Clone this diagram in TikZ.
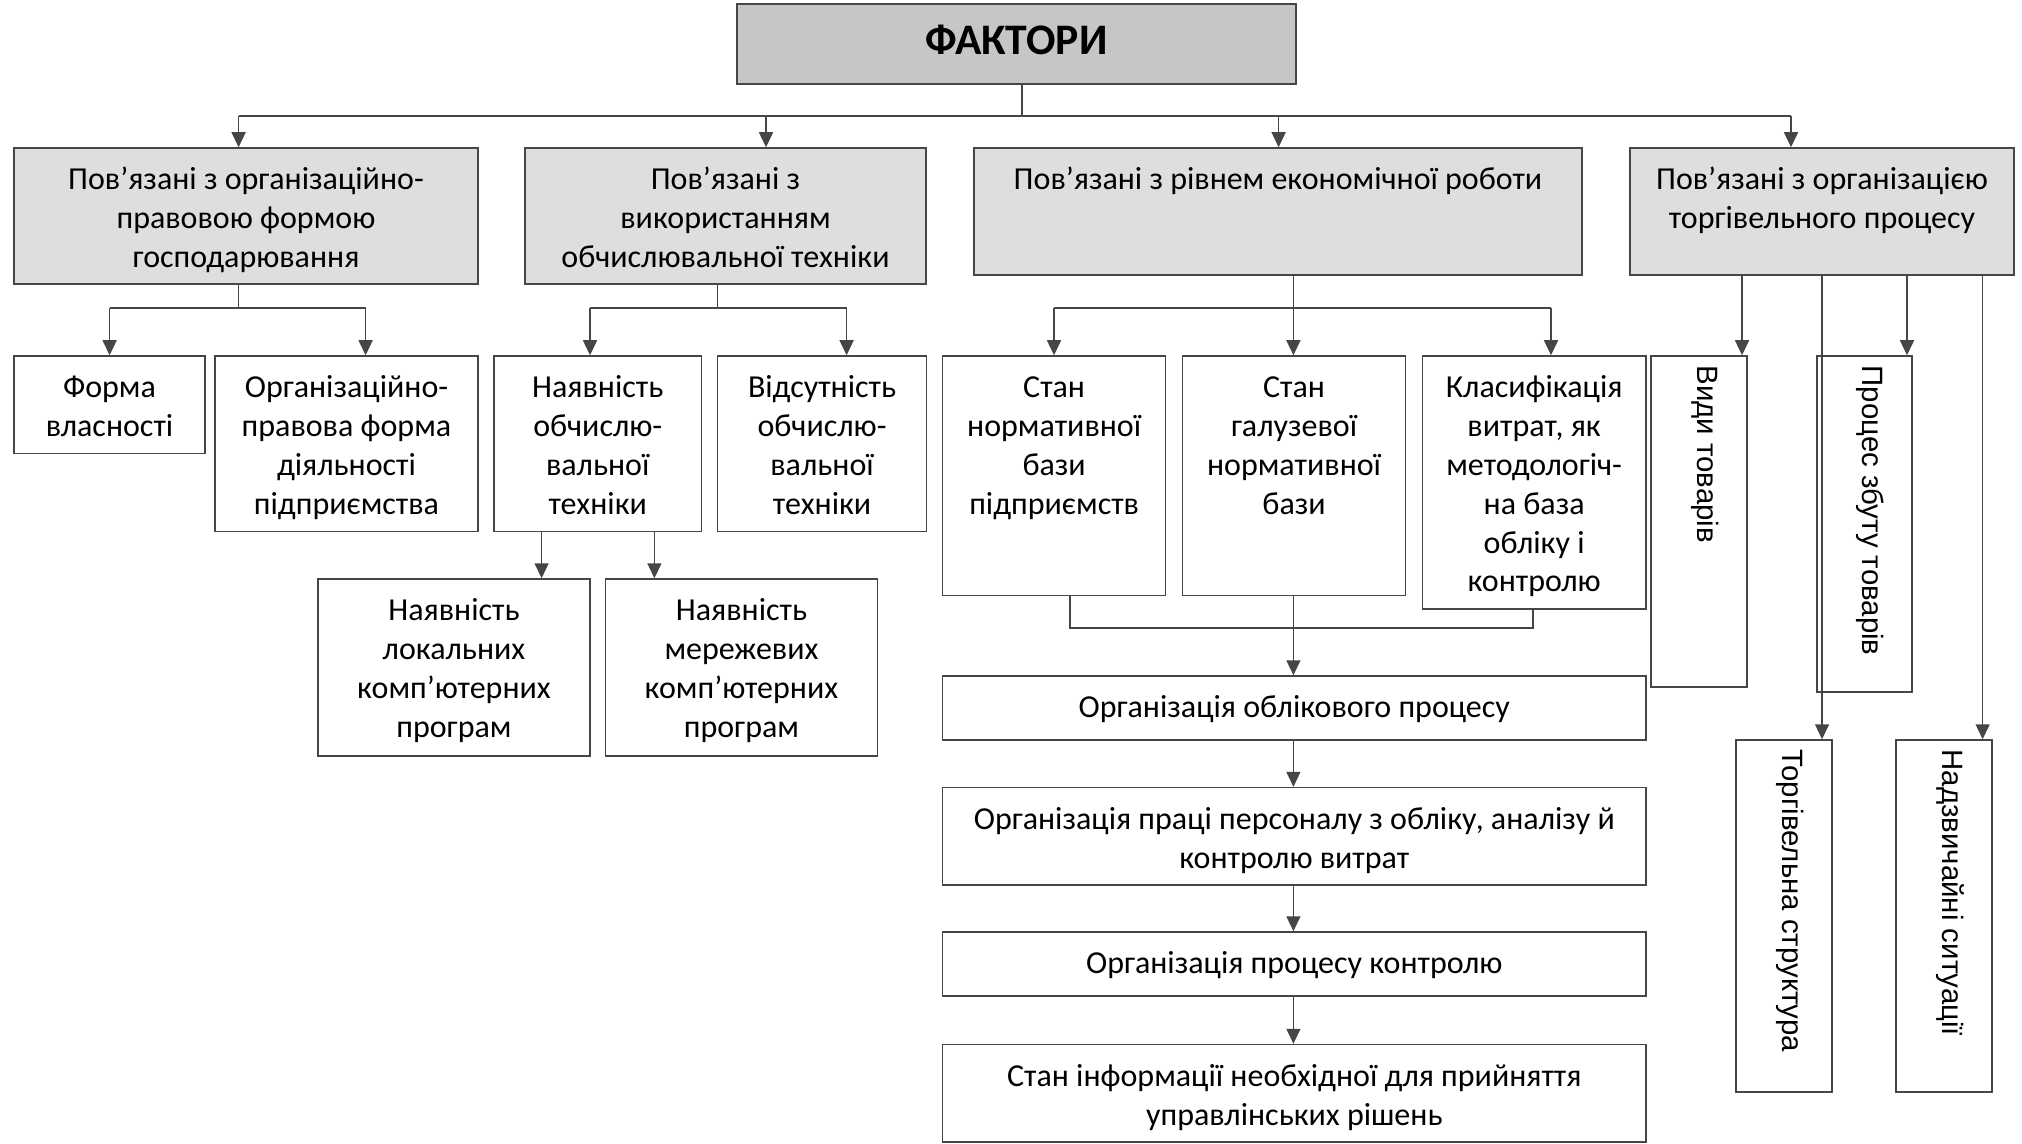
\documentclass[tikz,border=0pt]{standalone}
\usepackage{fontspec}
\setmainfont{Carlito}
\newfontfamily\vfont{Liberation Sans}
\usetikzlibrary{arrows.meta,fit,calc}
\definecolor{lncol}{RGB}{70,70,70}
\definecolor{topfill}{RGB}{198,198,198}
\definecolor{lvlfill}{RGB}{222,222,222}
\tikzset{
  bx/.style={draw=lncol, line width=0.75pt, inner sep=0pt, rectangle},
  topbox/.style={bx, fill=topfill},
  lvlbox/.style={bx, fill=lvlfill},
  plainbox/.style={bx},
  txt/.style={anchor=north, align=center, inner sep=0pt, text=black,
    font={\fontsize{16}{19.4}\selectfont}},
  ftxt/.style={inner sep=0pt, text=black, font={\fontsize{21.8}{26}\selectfont\bfseries}},
  vtxt/.style={anchor=west, rotate=-90, inner sep=0pt, text=black,
    font={\vfont\fontsize{14.7}{17}\selectfont}},
  ln/.style={draw=lncol, line width=0.75pt},
  arr/.style={ln, -{Triangle[width=7pt,length=7.5pt]}},
}
\begin{document}
\begin{tikzpicture}[x=0.5pt,y=-0.5pt]
\useasboundingbox (0,0) rectangle (2022,1144);
% ---- boxes ----
\node[topbox, fit={(737,4) (1296,84)}] (F) {};
\node[lvlbox, fit={(14,148) (478,284)}] (A) {};
\node[lvlbox, fit={(525,148) (926,284)}] (B) {};
\node[lvlbox, fit={(974,148) (1582,275)}] (C) {};
\node[lvlbox, fit={(1630,148) (2014,275)}] (D) {};
\node[plainbox, fit={(14,356) (205,453.5)}] (Forma) {};
\node[plainbox, fit={(215,356) (478,531.5)}] (OrgPrav) {};
\node[plainbox, fit={(494,356) (701.5,531.5)}] (Nayav) {};
\node[plainbox, fit={(717.6,356) (926.5,531.5)}] (Vidsut) {};
\node[plainbox, fit={(942.6,356) (1165.7,595.7)}] (StanNorm) {};
\node[plainbox, fit={(1182.5,356) (1405.6,595.7)}] (StanGal) {};
\node[plainbox, fit={(1422.3,356) (1646,609)}] (Klas) {};
\node[plainbox, fit={(1651,356) (1747,687)}] (Vydy) {};
\node[plainbox, fit={(1817,356) (1912,692)}] (Proces) {};
\node[plainbox, fit={(318,579) (590,756)}] (Lokal) {};
\node[plainbox, fit={(605.4,579) (877.5,756)}] (Merezh) {};
\node[plainbox, fit={(942.6,676) (1646,740)}] (Oblik) {};
\node[plainbox, fit={(942.6,787.6) (1646,885)}] (Praci) {};
\node[plainbox, fit={(942.6,932) (1646,996)}] (Kontr) {};
\node[plainbox, fit={(942.6,1044.5) (1646,1142)}] (StanInf) {};
\node[plainbox, fit={(1736,740) (1832,1092)}] (Torh) {};
\node[plainbox, fit={(1896,740) (1992,1092)}] (Nadz) {};
% ---- texts ----
\node[ftxt] (tF) at ([yshift=2pt]F.center) {ФАКТОРИ};
\node[txt] (tA) at ([yshift=-7.5pt]A.north) {\strut Пов’язані з організаційно-\\правовою формою\\господарювання};
\node[txt] (tB) at ([yshift=-7.5pt]B.north) {\strut Пов’язані з\\використанням\\обчислювальної техніки};
\node[txt] (tC) at ([yshift=-7.5pt]C.north) {\strut Пов’язані з рівнем економічної роботи};
\node[txt] (tD) at ([yshift=-7.5pt]D.north) {\strut Пов’язані з організацією\\торгівельного процесу};
\node[txt] (tForma) at ([yshift=-7.5pt]Forma.north) {\strut Форма\\власності};
\node[txt] (tOrgPrav) at ([yshift=-7.5pt]OrgPrav.north) {\strut Організаційно-\\правова форма\\діяльності\\підприємства};
\node[txt] (tNayav) at ([yshift=-7.5pt]Nayav.north) {\strut Наявність\\обчислю-\\вальної\\техніки};
\node[txt] (tVidsut) at ([yshift=-7.5pt]Vidsut.north) {\strut Відсутність\\обчислю-\\вальної\\техніки};
\node[txt] (tStanNorm) at ([yshift=-7.5pt]StanNorm.north) {\strut Стан\\нормативної\\бази\\підприємств};
\node[txt] (tStanGal) at ([yshift=-7.5pt]StanGal.north) {\strut Стан\\галузевої\\нормативної\\бази};
\node[txt] (tKlas) at ([yshift=-7.5pt]Klas.north) {\strut Класифікація\\витрат, як\\методологіч-\\на база\\обліку і\\контролю};
\node[txt] (tLokal) at ([yshift=-7.5pt]Lokal.north) {\strut Наявність\\локальних\\комп’ютерних\\програм};
\node[txt] (tMerezh) at ([yshift=-7.5pt]Merezh.north) {\strut Наявність\\мережевих\\комп’ютерних\\програм};
\node[txt] (tOblik) at ([yshift=-7.5pt]Oblik.north) {\strut Організація облікового процесу};
\node[txt] (tPraci) at ([yshift=-7.5pt]Praci.north) {\strut Організація праці персоналу з обліку, аналізу й\\контролю витрат};
\node[txt] (tKontr) at ([yshift=-7.5pt]Kontr.north) {\strut Організація процесу контролю};
\node[txt] (tStanInf) at ([yshift=-7.5pt]StanInf.north) {\strut Стан інформації необхідної для прийняття\\управлінських рішень};
\node[vtxt] (tVydy) at ([xshift=3pt,yshift=-5pt]Vydy.north) {Види товарів};
\node[vtxt] (tProces) at ([xshift=3pt,yshift=-5pt]Proces.north) {Процес збуту товарів};
\node[vtxt] (tTorh) at ([xshift=3pt,yshift=-5pt]Torh.north) {Торгівельна структура};
\node[vtxt] (tNadz) at ([xshift=3pt,yshift=-5pt]Nadz.north) {Надзвичайні ситуації};
% ---- junction coordinates ----
\coordinate (jF) at (1022,116);
\coordinate (jA) at (238.6,116);
\coordinate (jB) at (766,116);
\coordinate (jC) at (1278.6,116);
\coordinate (jD) at (1791,116);
\coordinate (jA2) at (238.6,308);
\coordinate (kA1) at (109.6,308);
\coordinate (kA2) at (365.6,308);
\coordinate (jB2) at (717.6,308);
\coordinate (kB1) at (590,308);
\coordinate (kB2) at (846.6,308);
\coordinate (kC1) at (1054,308);
\coordinate (kC2) at (1293.4,308);
\coordinate (kC3) at (1551,308);
\coordinate (xV) at (1742,0);
\coordinate (xP) at (1907,0);
\coordinate (xT) at (1822,0);
\coordinate (xN) at (1982.6,0);
\coordinate (xL) at (541.6,0);
\coordinate (xM) at (654.4,0);
\coordinate (xS) at (1070,0);
\coordinate (xK) at (1533,0);
\coordinate (yJ) at (0,627.8);
% ---- connectors ----
\draw[ln] (F.south -| jF) -- (jF);
\draw[ln] (jA) -- (jD);
\draw[arr] (jA) -- (A.north -| jA);
\draw[arr] (jB) -- (B.north -| jB);
\draw[arr] (jC) -- (C.north -| jC);
\draw[arr] (jD) -- (D.north -| jD);
\draw[ln] (A.south -| jA2) -- (jA2);
\draw[ln] (kA1) -- (kA2);
\draw[arr] (kA1) -- (Forma.north -| kA1);
\draw[arr] (kA2) -- (OrgPrav.north -| kA2);
\draw[ln] (B.south -| jB2) -- (jB2);
\draw[ln] (kB1) -- (kB2);
\draw[arr] (kB1) -- (Nayav.north -| kB1);
\draw[arr] (kB2) -- (Vidsut.north -| kB2);
\draw[arr] (C.south -| kC2) -- (StanGal.north -| kC2);
\draw[ln] (kC1) -- (kC3);
\draw[arr] (kC1) -- (StanNorm.north -| kC1);
\draw[arr] (kC3) -- (Klas.north -| kC3);
\draw[arr] (D.south -| xV) -- (Vydy.north -| xV);
\draw[arr] (D.south -| xP) -- (Proces.north -| xP);
\draw[arr] (D.south -| xT) -- (Torh.north -| xT);
\draw[arr] (D.south -| xN) -- (Nadz.north -| xN);
\draw[arr] (Nayav.south -| xL) -- (Lokal.north -| xL);
\draw[arr] (Nayav.south -| xM) -- (Merezh.north -| xM);
\draw[ln] (StanNorm.south -| xS) -- (xS |- yJ) -- (xK |- yJ) -- (Klas.south -| xK);
\draw[arr] (StanGal.south -| kC2) -- (Oblik.north -| kC2);
\draw[arr] (Oblik.south -| kC2) -- (Praci.north -| kC2);
\draw[arr] (Praci.south -| kC2) -- (Kontr.north -| kC2);
\draw[arr] (Kontr.south -| kC2) -- (StanInf.north -| kC2);
\end{tikzpicture}
\end{document}
